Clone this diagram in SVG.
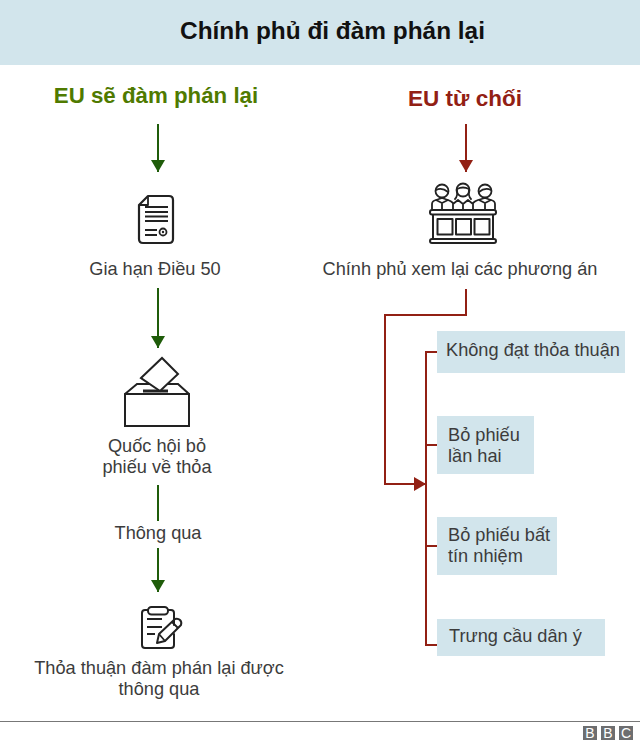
<svg xmlns="http://www.w3.org/2000/svg" width="640" height="747" viewBox="0 0 640 747">
<style>
text{font-family:"Liberation Sans",Arial,sans-serif;font-size:18.2px;fill:#3c3c3c;}
.ico{fill:none;stroke:#222;stroke-width:2;stroke-linejoin:round;stroke-linecap:round}
.thin{fill:none;stroke:#222;stroke-width:1.8;stroke-linejoin:round;stroke-linecap:butt}
.g{fill:none;stroke:#1f5c0a;stroke-width:2}
.r{fill:none;stroke:#922014;stroke-width:2}
.box{fill:#d2e5ec}
.c{text-anchor:middle}
.bl{fill:#6d6e70}
.blt{fill:#fff;font-size:14px;text-anchor:middle}
</style>
<defs>
<marker id="ag" markerUnits="userSpaceOnUse" markerWidth="12" markerHeight="14" refX="12" refY="7" orient="auto"><path d="M0 0L12 7L0 14Z" fill="#1f5c0a"/></marker>
<marker id="ar" markerUnits="userSpaceOnUse" markerWidth="12" markerHeight="14" refX="12" refY="7" orient="auto"><path d="M0 0L12 7L0 14Z" fill="#922014"/></marker>
</defs>
<rect id="header" width="640" height="65" class="box"/>
<text x="332.500" y="39" class="c" style="font-size:24.400px;font-weight:bold;fill:#111">Chính phủ đi đàm phán lại</text>
<text id="left-title" x="156" y="103" class="c" style="font-size:22.300px;font-weight:bold;fill:#4f7a00">EU sẽ đàm phán lại</text>
<text id="right-title" x="465" y="106" class="c" style="font-size:22.500px;font-weight:bold;fill:#922014">EU từ chối</text>
<g id="connectors">
<path class="g" d="M158 124V172" marker-end="url(#ag)"/>
<path class="g" d="M158 288V348" marker-end="url(#ag)"/>
<path class="g" d="M158 485V521"/>
<path class="g" d="M158 548V592" marker-end="url(#ag)"/>
<path class="r" d="M466 124V172" marker-end="url(#ar)"/>
<path class="r" d="M466 289V315H385V484H426" marker-end="url(#ar)"/>
<path class="r" d="M437 352H426V645H437M426 445H437M426 546H437"/>
</g>
<g id="n-document">
<path class="ico" d="M148 196H169Q173 196 173 200V239Q173 243 169 243H143Q139 243 139 239V205Z" style="stroke-width:2.200"/>
<path class="thin" d="M139 205H148V196"/>
<path d="M145 207H168M145 212H168M145 216.500H168M145 221H168M145 230H157M145 235H157" stroke="#222" stroke-width="1.800" fill="none"/>
<circle class="thin" cx="163" cy="232" r="3.500"/><circle cx="163" cy="232" r="1.200" fill="#222"/>
<text x="155" y="275" class="c">Gia hạn Điều 50</text>
</g>
<g id="n-jury">
<g class="ico" style="stroke-width:1.800">
<circle cx="442" cy="191" r="6.500"/><path d="M436 190Q442 187 448 192"/>
<circle cx="463" cy="190" r="6.500"/><path d="M457 189Q463 186 469 189M457 190Q458 196 455 199M469 190Q468 196 471 199"/>
<circle cx="485" cy="191" r="6.500"/><path d="M479 192Q485 187 491 190"/>
<path d="M432 209V204Q432 201 436 200L442 198L448 200Q451 201 453 203M442 203L436 200M442 203L448 200M442 203V209"/>
<path d="M453 209V204L458 200L463 204L468 200L473 204V209M463 204V209"/>
<path d="M473 203Q475 201 478 200L485 198L491 200Q495 201 495 204V209M485 203L479 200M485 203L491 200M485 203V209"/>
</g>
<rect class="ico" x="430" y="210" width="66" height="4.500" rx="2"/>
<path class="ico" d="M433 215V239M493 215V239"/>
<rect class="ico" x="437.500" y="219" width="15" height="15.500"/>
<rect class="ico" x="456" y="219" width="15" height="15.500"/>
<rect class="ico" x="474.500" y="219" width="15" height="15.500"/>
<rect class="ico" x="430" y="239" width="66" height="4" rx="2"/>
<text x="460" y="275" class="c">Chính phủ xem lại các phương án</text>
</g>
<g id="n-ballot">
<path class="ico" d="M125 394L137 384H178L189 394V426H125Z" style="stroke-linejoin:miter"/>
<path class="ico" d="M125 394H189" />
<path d="M143 391H168" stroke="#222" stroke-width="3" fill="none"/>
<path d="M141 378L162 358L178 374L160 391Z" fill="#fff" stroke="#222" stroke-width="2" stroke-linejoin="miter"/>
<text x="157" y="452" class="c">Quốc hội bỏ</text>
<text x="157" y="473" class="c">phiếu về thỏa</text>
</g>
<g id="n-passed"><text x="158" y="539" class="c">Thông qua</text></g>
<g id="n-clipboard">
<path class="ico" d="M148 610H145Q142 610 142 613V645Q142 648 145 648H171Q174 648 174 645V634M168 610H171Q174 610 174 613V625"/>
<rect class="ico" x="148" y="607" width="20" height="7.500" rx="3.500"/>
<path class="thin" d="M147 619H162M147 627H162M147 634H155"/>
<path class="ico" d="M157 643L159 634L175 619Q178 618 180 620Q182 622 181 625L165 641Z" style="stroke-width:2"/>
<path class="thin" d="M172 622L178 628M159 634L165 641"/>
<text x="159" y="674" class="c">Thỏa thuận đàm phán lại được</text>
<text x="159" y="695" class="c">thông qua</text>
</g>
<g id="n-opt1"><rect class="box" x="437" y="331" width="188" height="42"/><text x="446" y="356">Không đạt thỏa thuận</text></g>
<g id="n-opt2"><rect class="box" x="437" y="416" width="97" height="58"/><text x="448" y="441">Bỏ phiếu</text><text x="448" y="462">lần hai</text></g>
<g id="n-opt3"><rect class="box" x="437" y="517" width="120" height="58"/><text x="448" y="541">Bỏ phiếu bất</text><text x="448" y="562">tín nhiệm</text></g>
<g id="n-opt4"><rect class="box" x="437" y="619" width="168" height="37"/><text x="449" y="642">Trưng cầu dân ý</text></g>
<path id="footer-line" d="M0 721.500H640" stroke="#777" stroke-width="1"/>
<g id="bbc-logo">
<rect class="bl" x="583" y="726" width="14" height="14"/><text class="blt" x="590" y="738">B</text>
<rect class="bl" x="601" y="726" width="14" height="14"/><text class="blt" x="608" y="738">B</text>
<rect class="bl" x="619" y="726" width="14" height="14"/><text class="blt" x="626" y="738">C</text>
</g>
</svg>
